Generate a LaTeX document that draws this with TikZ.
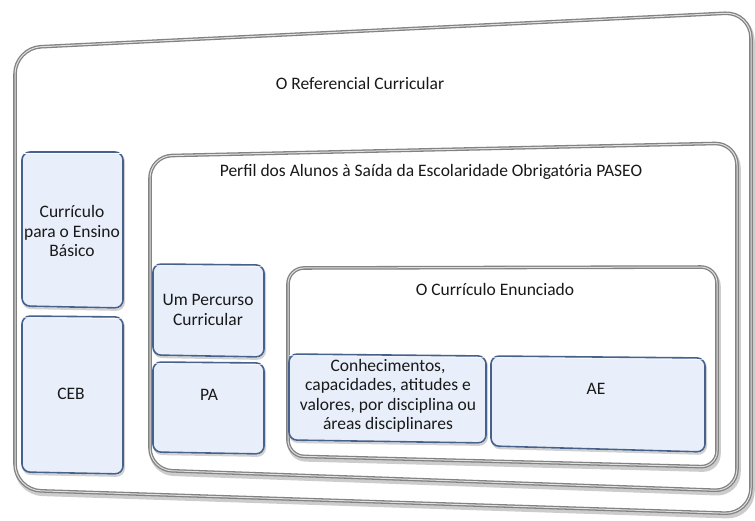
\documentclass[tikz,border=0pt]{standalone}
\usepackage{fontspec}
\setmainfont{Carlito}
\definecolor{boxfill}{RGB}{232,239,250}
\definecolor{boxline}{RGB}{70,98,140}
\definecolor{frameline}{RGB}{130,130,130}
\newcommand\frm[5][22]{%
 \draw[black!20, line width=4.5pt, rounded corners=#1pt, shift={(1.5,3)}] #2 -- #3 -- #4 -- #5 -- cycle;
 \draw[frameline, fill=white, line width=3.6pt, rounded corners=#1pt] #2 -- #3 -- #4 -- #5 -- cycle;
 \draw[black!12, line width=1pt, rounded corners=#1pt] #2 -- #3 -- #4 -- #5 -- cycle;}
\newcommand\bbox[4]{%
 \draw[black!18, line width=2pt, rounded corners=8pt, shift={(1,2)}] #1 -- #2 -- #3 -- #4 -- cycle;
 \draw[boxline, fill=boxfill, line width=1.6pt, rounded corners=8pt] #1 -- #2 -- #3 -- #4 -- cycle;
 \draw[white!70!boxfill, line width=0.6pt, rounded corners=7pt, shift={(0,1.6)}] #1 -- #2;}
\tikzset{lbl/.style={align=center, font=\fontsize{17.5}{19.5}\selectfont, text=black!90, inner sep=0pt}}
\begin{document}
\begin{tikzpicture}[x=1pt,y=-1pt]
\useasboundingbox (0,0) rectangle (755,520);
% outer frame
\frm[26]{(15,48)}{(751,12)}{(751,514)}{(15,490)}
\node[lbl] (ref) at (360,83) {O Referencial Curricular};
% left column
\bbox{(22,152)}{(123,152)}{(123,308)}{(22,306)}
\node[lbl] (ceb1) at (72,231) {Currículo\\para o Ensino\\Básico};
\bbox{(22,316)}{(123,317)}{(123,474)}{(22,472)}
\node[lbl] (ceb) at (71,394) {CEB};
% Perfil frame
\frm[22]{(150,156)}{(737,143)}{(737,491)}{(150,470)}
\node[lbl] (paseo) at (431,172) {Perfil dos Alunos à Saída da Escolaridade Obrigatória PASEO};
\bbox{(153,264)}{(264,265)}{(264,357)}{(153,355)}
\node[lbl] (upc) at (208,310) {Um Percurso\\Curricular};
\bbox{(153,362)}{(264,363)}{(264,454)}{(153,452)}
\node[lbl] (pa) at (209,395) {PA};
% Enunciado frame
\frm[16]{(288,268)}{(717,267)}{(717,467)}{(288,456)}
\node[lbl] (enun) at (495,289) {O Currículo Enunciado};
\bbox{(289,354)}{(486,356)}{(486,443)}{(289,440)}
\node[lbl] (conh) at (388,396) {Conhecimentos,\\capacidades, atitudes e\\valores, por disciplina ou\\áreas disciplinares};
\bbox{(491,356)}{(705,358)}{(705,452)}{(491,446)}
\node[lbl] (ae) at (596,389) {AE};
\end{tikzpicture}
\end{document}
